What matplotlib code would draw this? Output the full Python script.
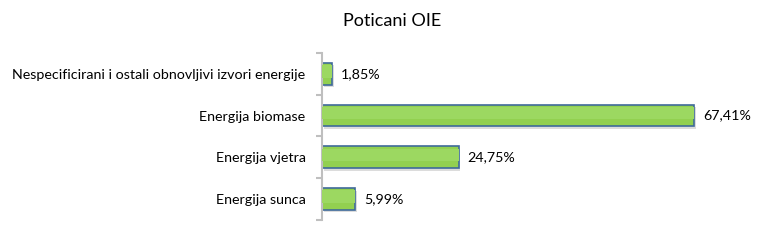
import matplotlib
matplotlib.use("Agg")
import numpy as np
from matplotlib import pyplot as plt

categories = ["Energija sunca", "Energija vjetra", "Energija biomase",
              "Nespecificirani i ostali obnovljivi izvori energije"]
values = [5.99, 24.75, 67.41, 1.85]
labels = ["5,99%", "24,75%", "67,41%", "1,85%"]

plt.rcParams['font.family'] = ['Lato', 'DejaVu Sans']

fig = plt.figure(figsize=(7.84, 2.43), dpi=100)
ax = fig.add_axes([0.411, 0.095, 0.563, 0.687])

y = np.arange(len(categories))
# shadow
ax.barh(y - 0.06, values, height=0.52, left=0.25, color='#dcdcdc', zorder=1)
ax.barh(y, values, height=0.52, color='#92D050', edgecolor='#3F6A9A', linewidth=1.2, zorder=2)
# soft highlight
ax.barh(y + 0.06, values, height=0.3, color='#9CD861', linewidth=0, zorder=3)

for yi, v, lab in zip(y, values, labels):
    ax.text(v + 1.6, yi, lab, va='center', ha='left', fontsize=10.3, color='black')

ax.set_xlim(0, 80)
ax.set_ylim(-0.5, len(categories) - 0.5)
ax.set_yticks(y)
ax.set_yticklabels(categories, fontsize=10.3)
ax.set_yticks(np.arange(-0.5, len(categories), 1), minor=True)
ax.tick_params(axis='y', which='major', length=0, pad=12)
ax.tick_params(axis='y', which='minor', length=4, color='#BFBFBF', width=1.5)
ax.set_xticks([])
for s in ['top', 'right', 'bottom']:
    ax.spines[s].set_visible(False)
ax.spines['left'].set_color('#BFBFBF')
ax.spines['left'].set_linewidth(1.5)

fig.text(0.5, 0.915, "Poticani OIE", ha='center', va='center', fontsize=13)

fig.savefig("out.png", dpi=100)
